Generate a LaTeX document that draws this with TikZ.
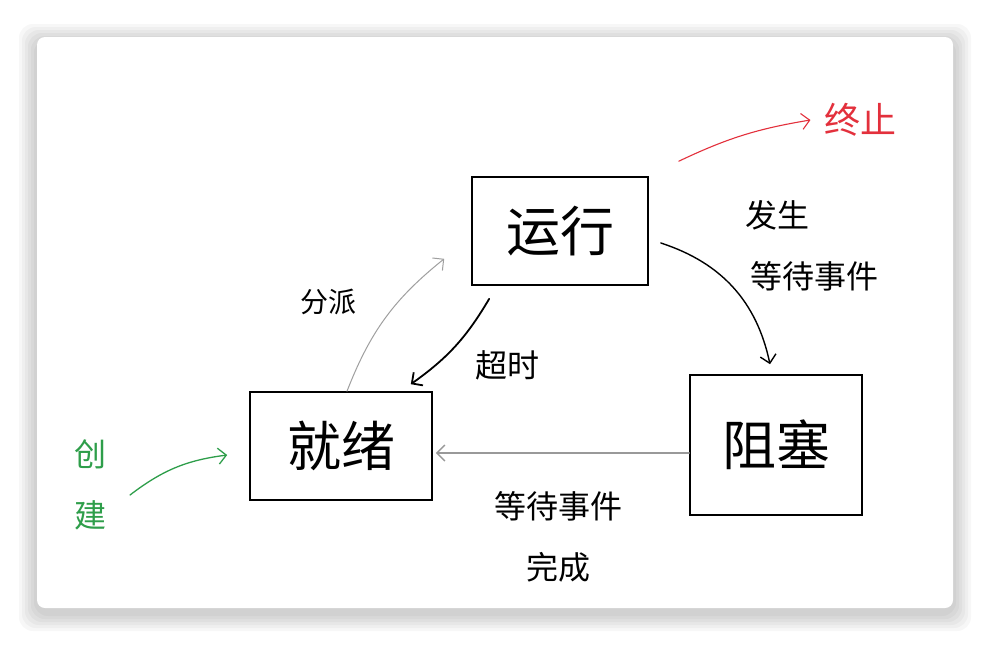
\documentclass[tikz,border=0pt]{standalone}
\usepackage{fontspec}
\newfontfamily\cjk{Noto Sans CJK SC}
\usetikzlibrary{arrows.meta}
\definecolor{endred}{HTML}{E3303C}
\definecolor{newgreen}{HTML}{2E9E4A}

\begin{document}
\begin{tikzpicture}[x=1pt,y=1pt,>={Straight Barb[length=8pt,width=16pt]},
  state/.style={draw,line width=1.6pt,inner sep=0pt,font=\cjk\fontsize{54}{60}\selectfont},
  lab/.style={font=\cjk\fontsize{32}{61}\selectfont,align=center},
  every path/.style={line cap=round}]
% card and its shadow
\useasboundingbox (0,0) rectangle (990,-646);
\fill[white] (0,0) rectangle (990,-646);
\foreach \s in {18,15,12,9,6,3}
  \fill[black,opacity=0.03,rounded corners=14pt] (37-\s,-37+\s-5) rectangle (953+\s,-608-\s-5);
\fill[white,rounded corners=8pt] (37,-37) rectangle (953,-608);
% states
\node[state,minimum width=176pt,minimum height=108pt] (run) at (560,-231) {运行};
\node[state,minimum width=182pt,minimum height=108pt] (ready) at (341,-446) {就绪};
\node[state,minimum width=172pt,minimum height=140pt] (block) at (776,-445) {阻塞};
% labels
\node[lab,font=\cjk\fontsize{28}{34}\selectfont] (dispatch) at (328,-302) {分派};
\node[lab] (timeout) at (507,-365) {超时};
\node[lab,align=left,anchor=west] (waitev) at (742,-246) {发生\\\,等待事件};
\node[lab] (evdone) at (558,-537) {等待事件\\完成};
\node[lab,text=newgreen] (create) at (90,-485) {创\\建};
\node[lab,text=endred,font=\cjk\fontsize{36}{40}\selectfont] (terminate) at (860,-120) {终止};
\coordinate (newin) at (130,-495);
% transitions
\draw[->,gray!75,line width=1pt] ([xshift=6pt]ready.north) to[bend left=15] ([shift={(-27,27)}]run.south west);
\draw[->,line width=1.8pt] ([shift={(18,-13)}]run.south west) to[bend left=12] ([shift={(-22,7)}]ready.north east);
\draw[->,line width=1.4pt] ([shift={(12,-12)}]run.east) to[bend left=30] ([shift={(-6,10)}]block.north);
\draw[->,gray!80,line width=1.4pt] ([yshift=-8pt]block.west) -- ([shift={(3,-7)}]ready.east);
\draw[->,newgreen,line width=1.3pt] (newin) to[bend left=15] ([shift={(-22,-9)}]ready.west);
\draw[->,endred,line width=1.1pt] ([shift={(30,15)}]run.north east) to[bend left=8] ([xshift=-10pt]terminate.west);
\end{tikzpicture}
\end{document}
